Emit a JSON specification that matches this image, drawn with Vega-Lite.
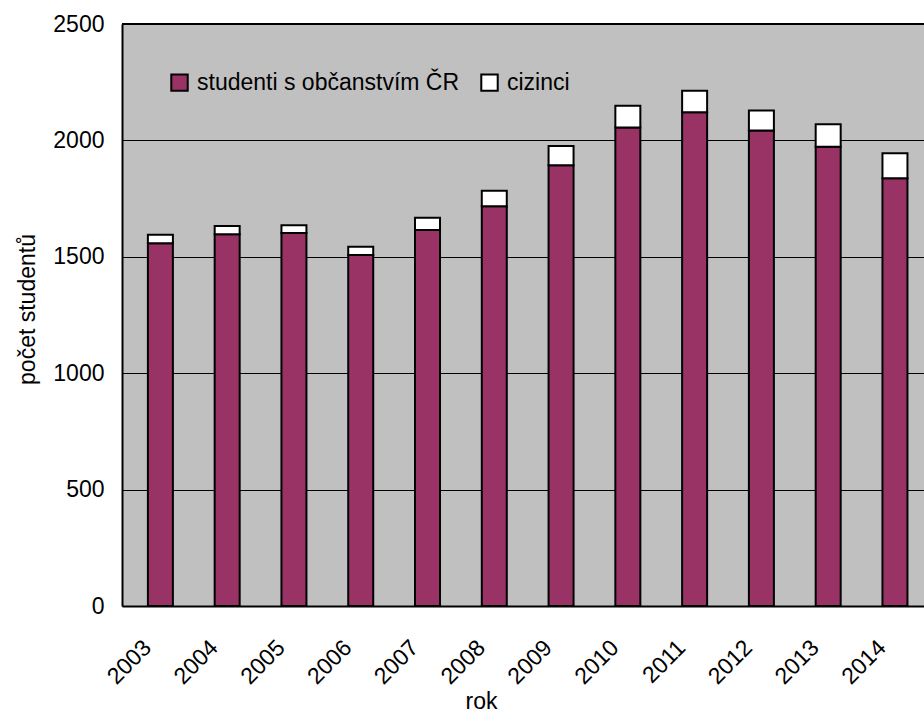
{
  "$schema": "https://vega.github.io/schema/vega-lite/v6.json",
  "autosize": {"type": "none"},
  "padding": {"left": 122, "top": 24, "right": 0, "bottom": 107},
  "width": 802,
  "height": 582,
  "background": "#ffffff",
  "config": {
    "font": "Liberation Sans",
    "view": {"fill": "#c0c0c0", "stroke": null},
    "axis": {
      "labelFont": "Liberation Sans",
      "titleFont": "Liberation Sans",
      "labelFontSize": 23,
      "titleFontSize": 23,
      "labelColor": "#000000",
      "titleColor": "#000000",
      "titleFontWeight": "normal",
      "domainColor": "#000000",
      "domainWidth": 2,
      "ticks": false
    },
    "legend": {
      "labelFont": "Liberation Sans",
      "labelFontSize": 23,
      "labelColor": "#000000",
      "labelLimit": 0
    }
  },
  "data": {
    "values": [
      {"rok": 2003, "skupina": "studenti s občanstvím ČR", "pocet": 1558},
      {"rok": 2003, "skupina": "cizinci", "pocet": 37},
      {"rok": 2004, "skupina": "studenti s občanstvím ČR", "pocet": 1597},
      {"rok": 2004, "skupina": "cizinci", "pocet": 35},
      {"rok": 2005, "skupina": "studenti s občanstvím ČR", "pocet": 1602},
      {"rok": 2005, "skupina": "cizinci", "pocet": 33},
      {"rok": 2006, "skupina": "studenti s občanstvím ČR", "pocet": 1508},
      {"rok": 2006, "skupina": "cizinci", "pocet": 35},
      {"rok": 2007, "skupina": "studenti s občanstvím ČR", "pocet": 1615},
      {"rok": 2007, "skupina": "cizinci", "pocet": 53},
      {"rok": 2008, "skupina": "studenti s občanstvím ČR", "pocet": 1717},
      {"rok": 2008, "skupina": "cizinci", "pocet": 67},
      {"rok": 2009, "skupina": "studenti s občanstvím ČR", "pocet": 1893},
      {"rok": 2009, "skupina": "cizinci", "pocet": 83},
      {"rok": 2010, "skupina": "studenti s občanstvím ČR", "pocet": 2055},
      {"rok": 2010, "skupina": "cizinci", "pocet": 94},
      {"rok": 2011, "skupina": "studenti s občanstvím ČR", "pocet": 2121},
      {"rok": 2011, "skupina": "cizinci", "pocet": 92},
      {"rok": 2012, "skupina": "studenti s občanstvím ČR", "pocet": 2042},
      {"rok": 2012, "skupina": "cizinci", "pocet": 86},
      {"rok": 2013, "skupina": "studenti s občanstvím ČR", "pocet": 1973},
      {"rok": 2013, "skupina": "cizinci", "pocet": 96},
      {"rok": 2014, "skupina": "studenti s občanstvím ČR", "pocet": 1837},
      {"rok": 2014, "skupina": "cizinci", "pocet": 108}
    ]
  },
  "layer": [
    {
      "mark": {"type": "bar", "width": 25, "stroke": "#000000", "strokeWidth": 2},
      "encoding": {
        "x": {
          "field": "rok",
          "type": "quantitative",
          "scale": {"domain": [2002.5, 2014.36], "nice": false, "zero": false},
          "axis": {
            "values": [2003, 2004, 2005, 2006, 2007, 2008, 2009, 2010, 2011, 2012, 2013, 2014],
            "format": "d",
            "grid": false,
            "labelAngle": -45,
            "labelAlign": "right",
            "labelBaseline": "top",
            "labelFlush": false,
            "labelPadding": 30,
            "labelOffset": -21,
            "title": "rok",
            "titleX": 359,
            "titleY": 102,
            "titleAnchor": "middle",
            "titleAlign": "center",
            "titleBaseline": "alphabetic"
          }
        },
        "y": {
          "field": "pocet",
          "type": "quantitative",
          "stack": "zero",
          "scale": {"domain": [0, 2500], "nice": false},
          "axis": {
            "values": [0, 500, 1000, 1500, 2000, 2500],
            "format": "d",
            "grid": true,
            "gridColor": "#000000",
            "gridWidth": 1,
            "labelPadding": 18,
            "title": "počet studentů",
            "titleAngle": -90,
            "titleX": -95,
            "titleY": 285,
            "titleAlign": "center",
            "titleBaseline": "middle"
          }
        },
        "color": {
          "field": "skupina",
          "type": "nominal",
          "sort": ["studenti s občanstvím ČR", "cizinci"],
          "scale": {
            "domain": ["studenti s občanstvím ČR", "cizinci"],
            "range": ["#993366", "#ffffff"]
          },
          "legend": {
            "title": null,
            "orient": "none",
            "direction": "horizontal",
            "legendX": 46,
            "legendY": 47,
            "padding": 0,
            "symbolType": "square",
            "symbolSize": 270,
            "symbolStrokeColor": "#000000",
            "symbolStrokeWidth": 2,
            "symbolOpacity": 1,
            "labelOffset": 6,
            "columnPadding": 17
          }
        }
      }
    },
    {
      "mark": {"type": "rule", "color": "#000000", "strokeWidth": 2},
      "encoding": {"y": {"datum": 2500}}
    }
  ]
}
